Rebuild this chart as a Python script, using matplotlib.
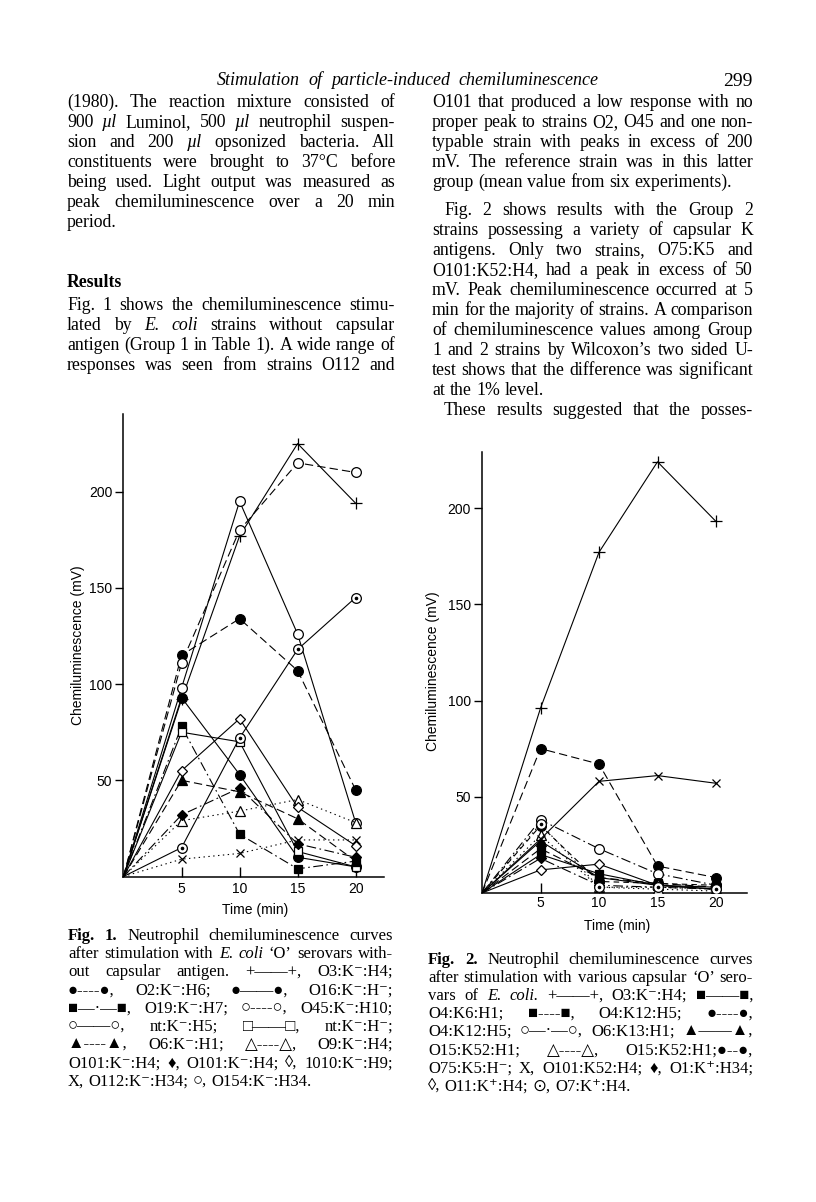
import matplotlib
matplotlib.use('Agg')
import matplotlib.pyplot as plt

W, H = 816, 1202
plt.rcParams['lines.scale_dashes'] = False
plt.rcParams['font.family'] = ['Liberation Serif', 'DejaVu Sans']

# ---------------- data ----------------
time_min = [0, 5, 10, 15, 20]
x_ticks = [5, 10, 15, 20]
y_ticks = [50, 100, 150, 200]

# Fig. 1 (strains without capsular antigen)
f1_o3_k_h4 = [0, 92, 177, 225, 194]
f1_o2_k_h6 = [0, 115, 134, 107, 45]
f1_o16_k_h = [0, 93, 53, 10, 5]
f1_o19_k_h7 = [0, 78, 22, 4, 8]
f1_o45_k_h10 = [0, 111, 180, 215, 210]
f1_nt_k_h5 = [0, 98, 195, 126, 28]
f1_nt_k_h = [0, 75, 70, 13, 5]
f1_o6_k_h1 = [0, 50, 44, 30, 8]
f1_o9_k_h4 = [0, 29, 34, 40, 28]
f1_o101_k_h4 = [0, 32, 46, 17, 10]
f1_1010_k_h9 = [0, 55, 82, 36, 16]
f1_o112_k_h34 = [0, 9, 12, 19, 19]
f1_o154_k_h34 = [0, 15, 72, 118, 145]

# Fig. 2 (capsular strains)
f2_o3_k_h4 = [0, 96, 177, 224, 193]
f2_o4_k6_h1 = [0, 20, 10, 4, 3]
f2_o4_k12_h5_sq = [0, 23, 8, 5, 3]
f2_o4_k12_h5_ci = [0, 75, 67, 14, 8]
f2_o6_k13_h1 = [0, 38, 23, 10, 4]
f2_o15_k52_h1_tri = [0, 27, 8, 4, 2]
f2_o15_k52_h1_otri = [0, 30, 3, 2, 1]
f2_o75_k5_h = [0, 35, 6, 5, 4]
f2_o101_k52_h4 = [0, 28, 58, 61, 57]
f2_o1_kp_h34 = [0, 18, 4, 3, 2]
f2_o11_kp_h4 = [0, 12, 15, 4, 2]
f2_o7_kp_h4 = [0, 36, 3, 3, 2]

# ---------------- styles ----------------
LS = {
    'solid': '-',
    'dash': (0, (6, 3)),
    'sdash': (0, (4, 3)),
    'dashdot': (0, (7, 2.5, 1.2, 2.5)),
    'dot': (0, (1, 2.5)),
}

fig1_series = [
    (f1_o3_k_h4, 'solid', '+'),
    (f1_o2_k_h6, 'dash', 'fo'),
    (f1_o16_k_h, 'solid', 'fo'),
    (f1_o19_k_h7, 'dashdot', 'fs'),
    (f1_o45_k_h10, 'dash', 'oo'),
    (f1_nt_k_h5, 'solid', 'oo'),
    (f1_nt_k_h, 'solid', 'os'),
    (f1_o6_k_h1, 'dash', 'f^'),
    (f1_o9_k_h4, 'dot', 'o^'),
    (f1_o101_k_h4, 'dashdot', 'fD'),
    (f1_1010_k_h9, 'solid', 'oD'),
    (f1_o112_k_h34, 'dot', 'x'),
    (f1_o154_k_h34, 'solid', 'odot'),
]

fig2_series = [
    (f2_o3_k_h4, 'solid', '+'),
    (f2_o4_k6_h1, 'solid', 'fs'),
    (f2_o4_k12_h5_sq, 'dash', 'fs'),
    (f2_o4_k12_h5_ci, 'dash', 'fo'),
    (f2_o6_k13_h1, 'dashdot', 'oo'),
    (f2_o15_k52_h1_tri, 'solid', 'f^'),
    (f2_o15_k52_h1_otri, 'dot', 'o^'),
    (f2_o75_k5_h, 'sdash', 'fo'),
    (f2_o101_k52_h4, 'solid', 'x'),
    (f2_o1_kp_h34, 'dashdot', 'fD'),
    (f2_o11_kp_h4, 'solid', 'oD'),
    (f2_o7_kp_h4, 'dot', 'odot'),
]


def plot_series(ax, y, ls, mk):
    kw = dict(color='k', lw=0.8, linestyle=LS[ls], markevery=[1, 2, 3, 4],
              mec='k', mew=0.9, zorder=3)
    if mk == '+':
        ax.plot(time_min, y, marker='+', ms=8, **kw)
    elif mk == 'x':
        ax.plot(time_min, y, marker='x', ms=6, **kw)
    else:
        m = {'o': 'o', 's': 's', '^': '^', 'D': 'D', 'd': 'o'}[mk[1] if mk != 'odot' else 'd']
        size = {'o': 7, 's': 6.3, '^': 6.5, 'D': 5.5}[m]
        fc = 'k' if mk[0] == 'f' else 'white'
        ax.plot(time_min, y, marker=m, ms=size, mfc=fc, **kw)
        if mk == 'odot':
            ax.plot(time_min[1:], y[1:], linestyle='none', marker='o', ms=1.6,
                    mfc='k', mec='k', zorder=4)


def px_axes(left, top, right, bottom):
    return [left / W, 1 - bottom / H, (right - left) / W, (bottom - top) / H]


fig = plt.figure(figsize=(W / 100, H / 100), dpi=100)

# Fig 1 axes
ax1 = fig.add_axes(px_axes(123.5, 414, 383.5, 876.5))
ax1.set_xlim(0, 22.4)
ax1.set_ylim(0, (876.5 - 414) / 1.924)
for y, ls, mk in fig1_series:
    plot_series(ax1, y, ls, mk)

# Fig 2 axes
ax2 = fig.add_axes(px_axes(482, 452, 747, 893))
ax2.set_xlim(0, (747 - 482) / 11.7)
ax2.set_ylim(0, (893 - 452) / 1.925)
for y, ls, mk in fig2_series:
    plot_series(ax2, y, ls, mk)

for ax, xpad in ((ax1, 4.0), (ax2, 2.0)):
    for s in ('top', 'right'):
        ax.spines[s].set_visible(False)
    for s in ('left', 'bottom'):
        ax.spines[s].set_linewidth(1.1)
    ax.set_xticks(x_ticks)
    ax.set_yticks(y_ticks)
    ax.tick_params(axis='x', direction='in', length=7, width=1.0, pad=xpad,
                   labelsize=10, labelfontfamily='Liberation Sans')
    ax.tick_params(axis='y', direction='out', length=6, width=1.0, pad=2,
                   labelsize=10, labelfontfamily='Liberation Sans')
    ax.patch.set_alpha(0)


def ftxt(x, y, s, **kw):
    return fig.text(x / W, 1 - y / H, s, **kw)


sans = dict(family='Liberation Sans', fontsize=10)
ftxt(78, 645, 'Chemiluminescence (mV)', rotation=90, ha='center', va='center', **sans)
ftxt(255, 910, 'Time (min)', ha='center', va='center', **sans)
ftxt(433, 671, 'Chemiluminescence (mV)', rotation=90, ha='center', va='center', **sans)
ftxt(617, 926, 'Time (min)', ha='center', va='center', **sans)

# ---------------- page text ----------------
renderer = fig.canvas.get_renderer()
FAM = ['Liberation Serif', 'DejaVu Sans']


def style_of(word):
    if word.startswith('^'):
        return word[1:], dict(fontweight='bold')
    if word.startswith('~'):
        return word[1:], dict(fontstyle='italic')
    return word, {}


def text_line(s, x0, x1, yc, size, justify=True, off=5.0):
    words = s.split(' ')
    arts, widths = [], []
    for w in words:
        txt, st = style_of(w)
        t = fig.text(0, 0, txt, fontsize=size, family=FAM, va='baseline', ha='left', **st)
        widths.append(t.get_window_extent(renderer=renderer).width)
        arts.append(t)
    space = size * 100 / 72 * 0.26
    if justify and len(arts) > 1:
        gap = max((x1 - x0 - sum(widths)) / (len(arts) - 1), 2.5)
    else:
        gap = space
    x = x0
    for t, w in zip(arts, widths):
        t.set_position((x / W, 1 - (yc + off) / H))
        x += w + gap


BODY = 12.8
left_col = [
    (102, "(1980). The reaction mixture consisted of", True, 0),
    (122, "900 ~µl Luminol, 500 ~µl neutrophil suspen-", True, 0),
    (142, "sion and 200 ~µl opsonized bacteria. All", True, 0),
    (162, "constituents were brought to 37°C before", True, 0),
    (182, "being used. Light output was measured as", True, 0),
    (202, "peak chemiluminescence over a 20 min", True, 0),
    (222, "period.", False, 0),
    (282, "^Results", False, 0),
    (305, "Fig. 1 shows the chemiluminescence stimu-", True, 0),
    (325, "lated by ~E. ~coli strains without capsular", True, 0),
    (345, "antigen (Group 1 in Table 1). A wide range of", True, 0),
    (365, "responses was seen from strains O112 and", True, 0),
]
right_col = [
    (102, "O101 that produced a low response with no", True, 0),
    (122, "proper peak to strains O2, O45 and one non-", True, 0),
    (142, "typable strain with peaks in excess of 200", True, 0),
    (162, "mV. The reference strain was in this latter", True, 0),
    (182, "group (mean value from six experiments).", False, 0),
    (210, "Fig. 2 shows results with the Group 2", True, 12),
    (230, "strains possessing a variety of capsular K", True, 0),
    (250, "antigens. Only two strains, O75:K5 and", True, 0),
    (270, "O101:K52:H4, had a peak in excess of 50", True, 0),
    (290, "mV. Peak chemiluminescence occurred at 5", True, 0),
    (310, "min for the majority of strains. A comparison", True, 0),
    (330, "of chemiluminescence values among Group", True, 0),
    (350, "1 and 2 strains by Wilcoxon’s two sided U-", True, 0),
    (370, "test shows that the difference was significant", True, 0),
    (390, "at the 1% level.", False, 0),
    (410, "These results suggested that the posses-", True, 12),
]
for yc, s, j, ind in left_col:
    text_line(s, 67 + ind, 395, yc, BODY, j)
for yc, s, j, ind in right_col:
    text_line(s, 432 + ind, 753, yc, BODY, j)

text_line("~Stimulation ~of ~particle-induced ~chemiluminescence", 217, 598, 80, 13.0, True)
ftxt(753, 86, "299", ha='right', va='baseline', fontsize=14, family=FAM)

CAP = 12.0
cap1 = [
    "^Fig. ^1. Neutrophil chemiluminescence curves",
    "after stimulation with ~E. ~coli ‘O’ serovars with-",
    "out capsular antigen. +——+, O3:K⁻:H4;",
    "●----●, O2:K⁻:H6; ●——●, O16:K⁻:H⁻;",
    "■—·—■, O19:K⁻:H7; ○----○, O45:K⁻:H10;",
    "○——○, nt:K⁻:H5; □——□, nt:K⁻:H⁻;",
    "▲----▲, O6:K⁻:H1; △----△, O9:K⁻:H4;",
    "O101:K⁻:H4; ♦, O101:K⁻:H4; ◊, 1010:K⁻:H9;",
    "X, O112:K⁻:H34; ○, O154:K⁻:H34.",
]
cap2 = [
    "^Fig. ^2. Neutrophil chemiluminescence curves",
    "after stimulation with various capsular ‘O’ sero-",
    "vars of ~E. ~coli. +——+, O3:K⁻:H4; ■——■,",
    "O4:K6:H1; ■----■, O4:K12:H5; ●----●,",
    "O4:K12:H5; ○—·—○, O6:K13:H1; ▲——▲,",
    "O15:K52:H1; △----△, O15:K52:H1;●--●,",
    "O75:K5:H⁻; X, O101:K52:H4; ♦, O1:K⁺:H34;",
    "◊, O11:K⁺:H4; ⊙, O7:K⁺:H4.",
]
for i, s in enumerate(cap1):
    text_line(s, 68, 393, 935 + 18.25 * i, CAP, i < len(cap1) - 1, off=4.5)
for i, s in enumerate(cap2):
    text_line(s, 428, 753, 959 + 18.15 * i, CAP, i < len(cap2) - 1, off=4.5)

fig.savefig('out.png', dpi=100)
